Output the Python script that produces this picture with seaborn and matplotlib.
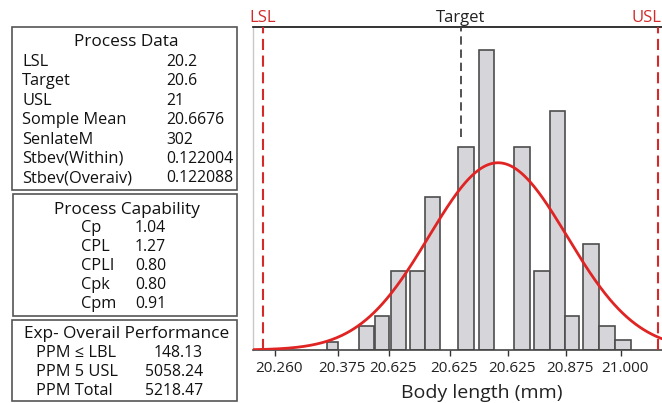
import numpy as np
import pandas as pd
import matplotlib
matplotlib.use("Agg")
import matplotlib.pyplot as plt
import matplotlib.transforms as mtransforms
from matplotlib.patches import Rectangle
import seaborn as sns

# ---------------- data ----------------
bin_left = [20.3296, 20.3944, 20.4268, 20.4592, 20.4977, 20.5281, 20.5949, 20.6375,
            20.7084, 20.7489, 20.7813, 20.8116, 20.8481, 20.8805, 20.9129]
bin_right = [20.3519, 20.4248, 20.4552, 20.4896, 20.5281, 20.5585, 20.6273, 20.6678,
             20.7408, 20.7813, 20.8116, 20.8400, 20.8805, 20.9129, 20.9453]
counts = [1.5, 4.6, 6.5, 15.2, 15.2, 29.4, 39.0, 57.7, 39.0, 15.2, 46.0, 6.5, 20.4, 4.6, 1.9]

lsl, target, usl = 20.2, 20.6, 21.0
curve_mean = 20.676
curve_sd = 0.14
curve_peak = 36.0

tick_pos = [20.2243, 20.3519, 20.4552, 20.5787, 20.6962, 20.8137, 20.9251]
tick_labels = ["20.260", "20.375", "20.625", "20.625", "20.625", "20.875", "21.000"]

pd_labels = ["LSL", "Target", "USL", "Somple Mean", "SenlateM", "Stbev(Within)", "Stbev(Overaiv)"]
pd_values = ["20.2", "20.6", "21", "20.6676", "302", "0.122004", "0.122088"]
cap_labels = ["Cp", "CPL", "CPLI", "Cpk", "Cpm"]
cap_values = ["1.04", "1.27", "0.80", "0.80", "0.91"]
perf_labels = ["PPM \u2264 LBL", "PPM 5 USL", "PPM Total"]
perf_values = ["148.13", "5058.24", "5218.47"]

# ---------------- style ----------------
sns.set_theme(style="white")
plt.rcParams["font.family"] = ["Open Sans", "DejaVu Sans"]
plt.rcParams["lines.scale_dashes"] = False

W, H = 662, 403
fig = plt.figure(figsize=(W / 100, H / 100), dpi=100)
fig.patch.set_facecolor("white")

def fx(px):
    return px / W

def fy(py):
    return 1 - py / H

ax = fig.add_axes([fx(253), fy(350), fx(662) - fx(253), fy(27) - fy(350)])
xmin, xmax = 20.1797, 21.0081
ax.set_xlim(xmin, xmax)
ax.set_ylim(0, 62.1)

# histogram bars
widths = [r - l for l, r in zip(bin_left, bin_right)]
ax.bar(bin_left, counts, width=widths, align="edge", color="#d6d6da",
       edgecolor="#4d4d4d", linewidth=1.2, zorder=2)

# fitted normal curve
xs = np.linspace(xmin, xmax, 500)
curve = pd.DataFrame({"x": xs,
                      "y": curve_peak * np.exp(-0.5 * ((xs - curve_mean) / curve_sd) ** 2)})
sns.lineplot(data=curve, x="x", y="y", ax=ax, color="#e02424", linewidth=2, zorder=3)

# spec lines
red = "#d42a2a"
ax.axvline(lsl, color=red, ls=(0, (8, 4)), lw=1.5, zorder=4)
ax.axvline(usl, color=red, ls=(0, (8, 4)), lw=1.5, zorder=4)
ax.axvline(target, ymin=0.66, ymax=1, color="#444444", ls=(0, (6, 3.5)), lw=1.3, zorder=4)

blend = mtransforms.blended_transform_factory(ax.transData, ax.transAxes)
ax.text(lsl, 1.0155, "LSL", transform=blend, ha="center", va="baseline",
        color=red, fontsize=12)
ax.text(target, 1.0155, "Target", transform=blend, ha="center", va="baseline",
        color="#222222", fontsize=12)
ax.annotate("USL", xy=(usl, 1.0155), xycoords=blend, xytext=(-19, 0),
            textcoords="offset points", ha="left", va="baseline", color=red,
            fontsize=12, annotation_clip=False)

# axes styling
ax.spines["right"].set_visible(False)
ax.spines["top"].set_color("#111111")
ax.spines["top"].set_linewidth(1.2)
ax.spines["left"].set_color("#c8c8c8")
ax.spines["left"].set_linewidth(1.0)
ax.spines["bottom"].set_color("#444444")
ax.spines["bottom"].set_linewidth(1.2)
ax.set_yticks([])
ax.set_xticks(tick_pos)
ax.set_xticklabels(tick_labels)
ax.tick_params(axis="x", direction="out", length=4, width=1, color="#333333",
               labelsize=11, pad=4, labelcolor="#222222", bottom=True)
offset = mtransforms.ScaledTranslation(4 / 100, 0, fig.dpi_scale_trans)
for lab in ax.get_xticklabels():
    lab.set_transform(lab.get_transform() + offset)
ax.set_xlabel("")
ax.set_ylabel("")
fig.text(fx(482), fy(398), "Body length (mm)", ha="center", va="baseline",
         fontsize=14, color="#222222")

# ---------------- info boxes ----------------
def box(x0, y0, x1, y1):
    fig.add_artist(Rectangle((fx(x0), fy(y1)), fx(x1) - fx(x0), fy(y0) - fy(y1),
                             transform=fig.transFigure, fill=False,
                             edgecolor="#555555", linewidth=1.2))

fs = 11.8
fsv = 11.3
fst = 12.4
tc = "#111111"
box(12, 27, 237, 190)
fig.text(fx(126), fy(46), "Process Data", ha="center", va="baseline", fontsize=fst, color=tc)
for i, (l, v) in enumerate(zip(pd_labels, pd_values)):
    yb = 66 + i * 19.4
    fig.text(fx(22), fy(yb), l, ha="left", va="baseline", fontsize=fs, color=tc)
    fig.text(fx(166), fy(yb), v, ha="left", va="baseline", fontsize=fsv, color=tc)

box(13, 194, 237, 316)
fig.text(fx(127), fy(214), "Process Capability", ha="center", va="baseline", fontsize=fst, color=tc)
for i, (l, v) in enumerate(zip(cap_labels, cap_values)):
    yb = 232 + i * 19
    fig.text(fx(81), fy(yb), l, ha="left", va="baseline", fontsize=fs, color=tc)
    fig.text(fx(135), fy(yb), v, ha="left", va="baseline", fontsize=fsv, color=tc)

box(12, 320, 237, 401)
fig.text(fx(127), fy(338), "Exp- Overail Performance", ha="center", va="baseline", fontsize=fst, color=tc)
for i, (l, v) in enumerate(zip(perf_labels, perf_values)):
    yb = 357 + i * 19
    fig.text(fx(36), fy(yb), l, ha="left", va="baseline", fontsize=fs, color=tc)
    fig.text(fx(203), fy(yb), v, ha="right", va="baseline", fontsize=fsv, color=tc)

fig.savefig("out.png", dpi=100)
